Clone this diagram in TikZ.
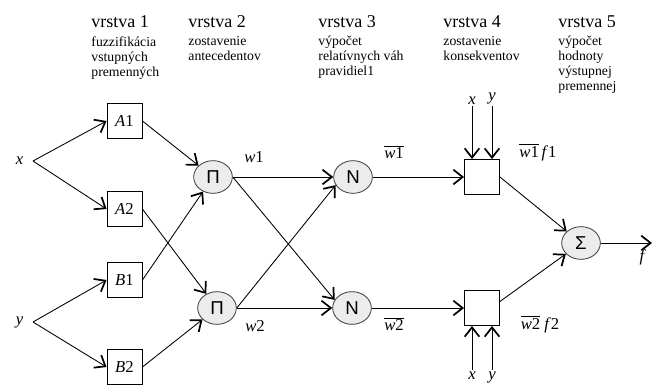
\documentclass[tikz,border=0pt]{standalone}
\usepackage{fontspec}
\setmainfont{Liberation Serif}
\newfontfamily\opfont{Liberation Sans}
\usetikzlibrary{positioning,calc,arrows.meta,shapes.geometric}
\definecolor{opgray}{RGB}{236,236,236}
\definecolor{opline}{RGB}{70,70,70}
\tikzset{
  anfispic/.style={
    x=0.75pt,y=-0.75pt
    ,line width=0.65pt
    ,>={Straight Barb[length=7pt,width=11pt,line width=1.3pt]}
  }
  ,layertitle/.style={anchor=base west,inner sep=0pt
    ,font=\fontsize{13.5}{15}\selectfont}
  ,layerinfo/.style={anchor=north west,inner sep=0pt,align=left
    ,font=\fontsize{10.3}{11.25}\selectfont}
  ,fuzzybox/.style={draw,minimum width=26.25pt,minimum height=26.25pt
    ,inner sep=0pt,font=\fontsize{12.5}{14}\selectfont}
  ,opnode/.style={ellipse,draw=opline,fill=opgray,inner sep=0pt
    ,minimum width=29pt,minimum height=24.5pt
    ,font=\opfont\fontsize{14}{14}\selectfont}
  ,varlabel/.style={inner sep=1pt,font=\fontsize{12.5}{14}\selectfont}
  ,edge/.style={->}
}
\newcommand\layerhead[4]{
\node[layertitle] (#1) at (#2,27) {#3};
\node[layerinfo] (#1info) at (#2,36) {#4};
}

\begin{document}
\begin{tikzpicture}[anfispic]
  \useasboundingbox (0,0) rectangle (659,390);
  % layer titles
  \layerhead{vr1}{91}{vrstva 1}{fuzzifikácia\\vstupných\\premenných}
  \layerhead{vr2}{188}{vrstva 2}{zostavenie\\antecedentov}
  \layerhead{vr3}{318}{vrstva 3}{výpočet\\relatívnych váh\\pravidiel1}
  \layerhead{vr4}{443}{vrstva 4}{zostavenie\\konsekventov}
  \layerhead{vr5}{558}{vrstva 5}{výpočet\\hodnoty\\výstupnej\\premennej}
  % inputs
  \coordinate (xin) at (33,161);
  \coordinate (yin) at (33,322);
  \node[varlabel,left=6pt of xin] (x) {\textit{x}};
  \node[varlabel,left=6pt of yin] (y) {\textit{y}};
  % layer 1
  \node[fuzzybox] (A1) at (124.5,121) {\textit{A}1};
  \node[fuzzybox] (A2) at (124.5,209) {\textit{A}2};
  \node[fuzzybox] (B1) at (124.5,280) {\textit{B}1};
  \node[fuzzybox] (B2) at (124.5,367) {\textit{B}2};
  % layer 2
  \node[opnode] (P1) at (213,177) {Π};
  \node[opnode] (P2) at (217,308) {Π};
  \node[varlabel] (w1) at (254,157) {\textit{w}1};
  \node[varlabel] (w2) at (255,326) {\textit{w}2};
  % layer 3
  \node[opnode] (N1) at (353,177) {N};
  \node[opnode] (N2) at (352,308) {N};
  \node[varlabel] (nw1) at (394,152) {$\overline{\mbox{\textit{w}1}}$};
  \node[varlabel] (nw2) at (394,324) {$\overline{\mbox{\textit{w}2}}$};
  % layer 4
  \node[fuzzybox] (F1) at (482,177) {};
  \node[fuzzybox] (F2) at (482,308) {};
  \node[varlabel] (wf1) at (538,152) {$\overline{\mbox{\textit{w}1}}$\,\textit{f}1};
  \node[varlabel] (wf2) at (540,324) {$\overline{\mbox{\textit{w}2}}$\ \textit{f}2};
  \coordinate (x1in) at (472,106);
  \coordinate (y1in) at (492,106);
  \coordinate (x2in) at (472,370);
  \coordinate (y2in) at (492,370);
  \node[varlabel,above=0pt of x1in] (x1) {\textit{x}};
  \node[varlabel,above=0pt of y1in] (y1) {\textit{y}};
  \node[varlabel,below=0pt of x2in] (x2) {\textit{x}};
  \node[varlabel,below=0pt of y2in] (y2) {\textit{y}};
  % layer 5
  \node[opnode] (S) at (581,243) {Σ};
  \coordinate (fout) at (652,243);
  \node[varlabel] (f) at (643,257) {\textit{f}};
  % connections
  \draw[edge] (xin) -- (A1.west);
  \draw[edge] (xin) -- (A2.west);
  \draw[edge] (yin) -- (B1.west);
  \draw[edge] (yin) -- (B2.west);
  \draw[edge] (A1.east) -- (P1);
  \draw[edge] (B1.east) -- (P1);
  \draw[edge] (A2.east) -- (P2);
  \draw[edge] (B2.east) -- (P2);
  \draw[edge] (P1.east) -- (N1.west);
  \draw[edge] (P1.east) -- (N2.155);
  \draw[edge] (P2.east) -- (N1.205);
  \draw[edge] (P2.east) -- (N2.west);
  \draw[edge] (N1.east) -- (F1.west);
  \draw[edge] (N2.east) -- (F2.west);
  \draw[edge] (x1in) -- (x1in |- F1.north);
  \draw[edge] (y1in) -- (y1in |- F1.north);
  \draw[edge] (x2in) -- (x2in |- F2.south);
  \draw[edge] (y2in) -- (y2in |- F2.south);
  \draw[edge] (F1.east) -- (S);
  \draw[edge] (F2.20) -- (S);
  \draw[edge] (S.east) -- (fout);
\end{tikzpicture}
\end{document}
